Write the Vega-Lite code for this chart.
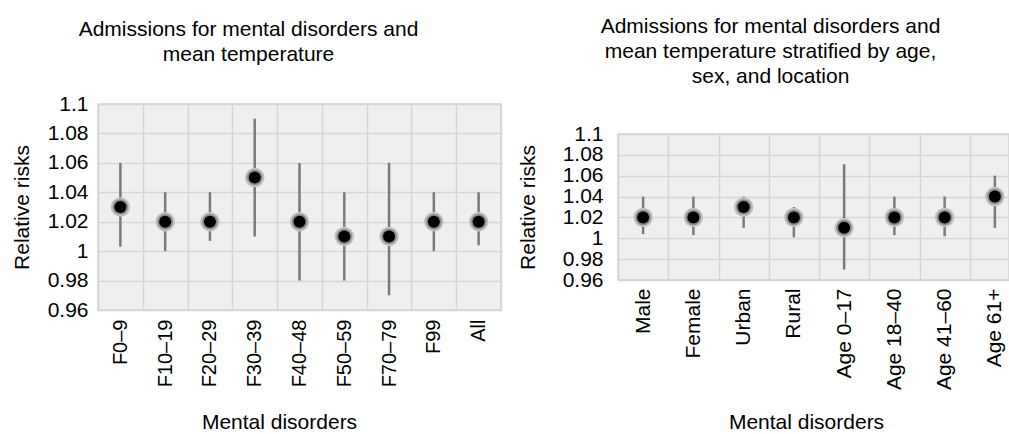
{
  "$schema": "https://vega.github.io/schema/vega-lite/v6.json",
  "padding": {"left": 10, "top": 15, "right": 0, "bottom": 0},
  "spacing": 117,
  "bounds": "flush",
  "center": true,
  "config": {
    "font": "Liberation Sans",
    "view": {"fill": "#efefef", "stroke": "#d4d4d4", "strokeWidth": 1.5},
    "axis": {"labelFont": "Liberation Sans", "titleFont": "Liberation Sans", "labelColor": "#000000", "titleColor": "#000000", "titleFontWeight": "normal", "domain": false, "ticks": false, "gridColor": "#d6d6d6", "gridWidth": 1.5, "gridOpacity": 1, "labelOverlap": false},
    "title": {"font": "Liberation Sans", "fontSize": 21, "fontWeight": "normal", "color": "#000000", "lineHeight": 25, "anchor": "middle"}
  },
  "datasets": {
    "overall": [
      {"group": "F0–9", "rr": 1.03, "lower": 1.003, "upper": 1.06},
      {"group": "F10–19", "rr": 1.02, "lower": 1.0, "upper": 1.04},
      {"group": "F20–29", "rr": 1.02, "lower": 1.007, "upper": 1.04},
      {"group": "F30–39", "rr": 1.05, "lower": 1.01, "upper": 1.09},
      {"group": "F40–48", "rr": 1.02, "lower": 0.98, "upper": 1.06},
      {"group": "F50–59", "rr": 1.01, "lower": 0.98, "upper": 1.04},
      {"group": "F70–79", "rr": 1.01, "lower": 0.97, "upper": 1.06},
      {"group": "F99", "rr": 1.02, "lower": 1.0, "upper": 1.04},
      {"group": "All", "rr": 1.02, "lower": 1.004, "upper": 1.04}
    ],
    "stratified": [
      {"group": "Male", "rr": 1.02, "lower": 1.004, "upper": 1.04},
      {"group": "Female", "rr": 1.02, "lower": 1.003, "upper": 1.04},
      {"group": "Urban", "rr": 1.03, "lower": 1.01, "upper": 1.04},
      {"group": "Rural", "rr": 1.02, "lower": 1.001, "upper": 1.03},
      {"group": "Age 0–17", "rr": 1.01, "lower": 0.97, "upper": 1.071},
      {"group": "Age 18–40", "rr": 1.02, "lower": 1.003, "upper": 1.04},
      {"group": "Age 41–60", "rr": 1.02, "lower": 1.002, "upper": 1.04},
      {"group": "Age 61+", "rr": 1.04, "lower": 1.01, "upper": 1.06}
    ]
  },
  "hconcat": [
    {
      "width": 403,
      "height": 206,
      "title": {"text": ["Admissions for mental disorders and", "mean temperature"], "dx": -51, "offset": 28},
      "data": {"name": "overall"},
      "encoding": {
        "x": {
          "field": "group", "type": "nominal", "sort": null,
          "scale": {"type": "band", "paddingInner": 0, "paddingOuter": 0},
          "axis": {"title": "Mental disorders", "titleFontSize": 21, "labelFontSize": 20, "labelAngle": -90, "labelPadding": 9, "titlePadding": 25, "titleX": 181, "grid": true, "tickBand": "extent"}
        }
      },
      "layer": [
        {
          "mark": {"type": "rule", "color": "#7a7a7a", "strokeWidth": 2.5},
          "encoding": {
            "y": {"field": "lower", "type": "quantitative", "scale": {"domain": [0.96, 1.1], "zero": false, "nice": false},
              "axis": {"title": "Relative risks", "values": [0.96, 0.98, 1, 1.02, 1.04, 1.06, 1.08, 1.1], "format": "~g", "labelOverlap": false, "labelFontSize": 21, "titleFontSize": 21, "labelPadding": 10, "titlePadding": 15, "grid": true}},
            "y2": {"field": "upper"}
          }
        },
        {
          "mark": {"type": "point", "shape": "circle", "filled": true, "size": 380, "color": "#c2c2c2", "opacity": 1},
          "encoding": {"y": {"field": "rr", "type": "quantitative",
              "axis": {"title": "Relative risks", "values": [0.96, 0.98, 1, 1.02, 1.04, 1.06, 1.08, 1.1], "format": "~g", "labelOverlap": false, "labelFontSize": 21, "titleFontSize": 21, "labelPadding": 10, "titlePadding": 15, "grid": true}}}
        },
        {
          "mark": {"type": "point", "shape": "circle", "filled": true, "size": 240, "color": "#8a8a8a", "opacity": 1},
          "encoding": {"y": {"field": "rr", "type": "quantitative",
              "axis": {"title": "Relative risks", "values": [0.96, 0.98, 1, 1.02, 1.04, 1.06, 1.08, 1.1], "format": "~g", "labelOverlap": false, "labelFontSize": 21, "titleFontSize": 21, "labelPadding": 10, "titlePadding": 15, "grid": true}}}
        },
        {
          "mark": {"type": "point", "shape": "circle", "filled": true, "size": 144, "color": "#000000", "opacity": 1},
          "encoding": {"y": {"field": "rr", "type": "quantitative",
              "axis": {"title": "Relative risks", "values": [0.96, 0.98, 1, 1.02, 1.04, 1.06, 1.08, 1.1], "format": "~g", "labelOverlap": false, "labelFontSize": 21, "titleFontSize": 21, "labelPadding": 10, "titlePadding": 15, "grid": true}}}
        }
      ]
    },
    {
      "width": 391,
      "height": 146,
      "title": {"text": ["Admissions for mental disorders and", "mean temperature stratified by age,", "sex, and location"], "dx": -43, "offset": 36},
      "data": {"name": "stratified"},
      "encoding": {
        "x": {
          "field": "group", "type": "nominal", "sort": null,
          "scale": {"type": "band", "paddingInner": 0, "paddingOuter": 0, "range": [0, 402]},
          "axis": {"title": "Mental disorders", "titleFontSize": 21, "labelFontSize": 21, "labelAngle": -90, "labelPadding": 8, "titlePadding": 22, "titleX": 188, "grid": true, "tickBand": "extent"}
        }
      },
      "layer": [
        {
          "mark": {"type": "rule", "color": "#7a7a7a", "strokeWidth": 2.5},
          "encoding": {
            "y": {"field": "lower", "type": "quantitative", "scale": {"domain": [0.96, 1.1], "zero": false, "nice": false},
              "axis": {"title": "Relative risks", "values": [0.96, 0.98, 1, 1.02, 1.04, 1.06, 1.08, 1.1], "format": "~g", "labelOverlap": false, "labelFontSize": 21, "titleFontSize": 21, "labelPadding": 15, "titlePadding": 24, "grid": true}},
            "y2": {"field": "upper"}
          }
        },
        {
          "mark": {"type": "point", "shape": "circle", "filled": true, "size": 380, "color": "#c2c2c2", "opacity": 1},
          "encoding": {"y": {"field": "rr", "type": "quantitative",
              "axis": {"title": "Relative risks", "values": [0.96, 0.98, 1, 1.02, 1.04, 1.06, 1.08, 1.1], "format": "~g", "labelOverlap": false, "labelFontSize": 21, "titleFontSize": 21, "labelPadding": 15, "titlePadding": 24, "grid": true}}}
        },
        {
          "mark": {"type": "point", "shape": "circle", "filled": true, "size": 240, "color": "#8a8a8a", "opacity": 1},
          "encoding": {"y": {"field": "rr", "type": "quantitative",
              "axis": {"title": "Relative risks", "values": [0.96, 0.98, 1, 1.02, 1.04, 1.06, 1.08, 1.1], "format": "~g", "labelOverlap": false, "labelFontSize": 21, "titleFontSize": 21, "labelPadding": 15, "titlePadding": 24, "grid": true}}}
        },
        {
          "mark": {"type": "point", "shape": "circle", "filled": true, "size": 144, "color": "#000000", "opacity": 1},
          "encoding": {"y": {"field": "rr", "type": "quantitative",
              "axis": {"title": "Relative risks", "values": [0.96, 0.98, 1, 1.02, 1.04, 1.06, 1.08, 1.1], "format": "~g", "labelOverlap": false, "labelFontSize": 21, "titleFontSize": 21, "labelPadding": 15, "titlePadding": 24, "grid": true}}}
        }
      ]
    }
  ]
}
